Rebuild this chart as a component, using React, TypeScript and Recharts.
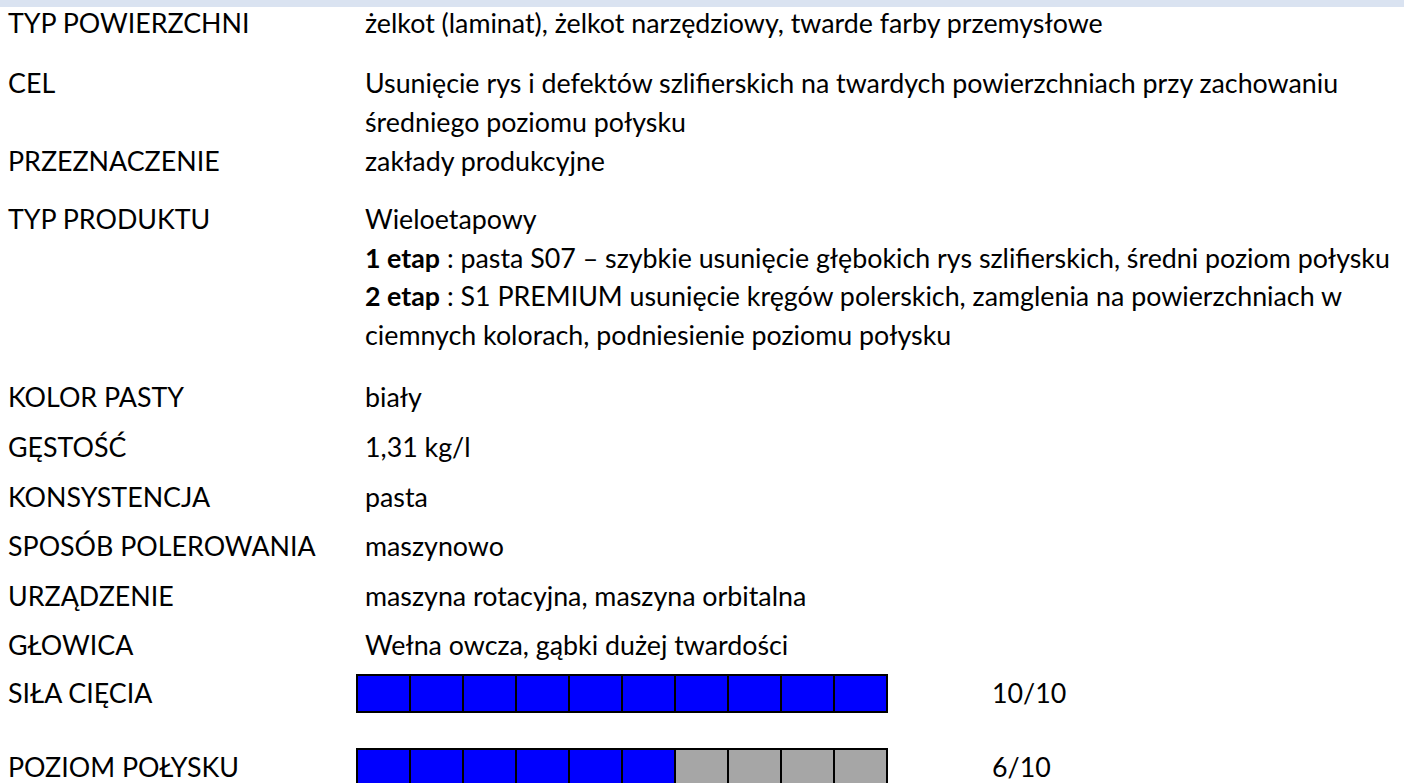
import React from 'react';
import { Bar, BarChart, Cell, LabelList, XAxis, YAxis } from 'recharts';

// left column of the spec sheet
const specLabels = [
  'TYP POWIERZCHNI',
  'CEL',
  'PRZEZNACZENIE',
  'TYP PRODUKTU',
  'KOLOR PASTY',
  'GĘSTOŚĆ',
  'KONSYSTENCJA',
  'SPOSÓB POLEROWANIA',
  'URZĄDZENIE',
  'GŁOWICA',
];

// right column, one entry per line; **...** marks a bold prefix
const specValues: string[][] = [
  ['żelkot (laminat), żelkot narzędziowy, twarde farby przemysłowe'],
  [
    'Usunięcie rys i defektów szlifierskich na twardych powierzchniach przy zachowaniu',
    'średniego poziomu połysku',
  ],
  ['zakłady produkcyjne'],
  [
    'Wieloetapowy',
    '**1 etap** : pasta S07 – szybkie usunięcie głębokich rys szlifierskich, średni poziom połysku',
    '**2 etap** : S1 PREMIUM usunięcie kręgów polerskich, zamglenia na powierzchniach w',
    'ciemnych kolorach, podniesienie poziomu połysku',
  ],
  ['biały'],
  ['1,31 kg/l'],
  ['pasta'],
  ['maszynowo'],
  ['maszyna rotacyjna, maszyna orbitalna'],
  ['Wełna owcza, gąbki dużej twardości'],
];

const ratingLabels = ['SIŁA CIĘCIA', 'POZIOM POŁYSKU'];
const ratingValues = [10, 6];
const ratingMax = 10;

// layout
const W = 1404;
const H = 783;
const FONT = 'Lato, "Open Sans", sans-serif';
const FS = 26.8;
const rowBaselines = [33, 93, 171, 229, 407, 457, 507, 556, 606, 655];
const LINE = 38.7;
const VALUE_X = 365;
const BLUE = '#0000ff';
const GRAY = '#a6a6a6';

const ratingData = ratingLabels.map((name, r) => {
  const row: any = { name, score: `${ratingValues[r]}/${ratingMax}` };
  for (let i = 0; i < ratingMax; i++) row[`s${i}`] = 1;
  return row;
});

const renderLine = (line: string) => {
  const m = line.match(/^\*\*(.+?)\*\*(.*)$/);
  if (!m) return line;
  return (
    <>
      <tspan fontWeight='bold'>{m[1]}</tspan>
      <tspan>{m[2]}</tspan>
    </>
  );
};

const RatingTick = ({ y, payload }: any) => (
  <text x={8} y={y + 9.5} fill='#000' fontSize={FS} fontFamily={FONT}>
    {payload.value}
  </text>
);

const ScoreLabel = ({ x, y, width, height, value }: any) => (
  <text
    x={x + width + 105}
    y={y + height / 2 + 9.5}
    fill='#000'
    fontSize={FS}
    fontFamily={FONT}
  >
    {value}
  </text>
);

const App: React.FC = () => {
  return (
    <div
      style={{
        position: 'absolute',
        left: 0,
        top: 0,
        width: W,
        height: H,
        overflow: 'hidden',
        background: '#fff',
      }}
    >
      <svg
        width={W}
        height={H}
        style={{ position: 'absolute', left: 0, top: 0 }}
      >
        <rect x={0} y={0} width={W} height={7} fill='#dae3f1' />
        {specLabels.map((label, i) => (
          <g key={label} fontFamily={FONT} fontSize={FS} fill='#000'>
            <text x={8} y={rowBaselines[i]}>
              {label}
            </text>
            {specValues[i].map((line, j) => (
              <text
                key={j}
                x={VALUE_X}
                y={rowBaselines[i] + j * LINE}
                style={{ whiteSpace: 'pre' }}
              >
                {renderLine(line)}
              </text>
            ))}
          </g>
        ))}
      </svg>
      <BarChart
        width={W}
        height={148}
        layout='vertical'
        data={ratingData}
        margin={{ top: 0, right: 517, bottom: 0, left: 0 }}
        barSize={37}
        style={{ position: 'absolute', left: 0, top: 656 }}
      >
        <XAxis type='number' domain={[0, ratingMax]} hide />
        <YAxis
          type='category'
          dataKey='name'
          width={357}
          axisLine={false}
          tickLine={false}
          tick={RatingTick}
        />
        {Array.from({ length: ratingMax }).map((_, i) => (
          <Bar
            key={`s${i}`}
            dataKey={`s${i}`}
            stackId='rating'
            stroke='#000'
            strokeWidth={2}
            isAnimationActive={false}
          >
            {ratingData.map((d, r) => (
              <Cell
                key={`cell-${d.name}`}
                fill={i < ratingValues[r] ? BLUE : GRAY}
              />
            ))}
            {i === ratingMax - 1 && (
              <LabelList dataKey='score' content={ScoreLabel} />
            )}
          </Bar>
        ))}
      </BarChart>
    </div>
  );
};

export default App;
